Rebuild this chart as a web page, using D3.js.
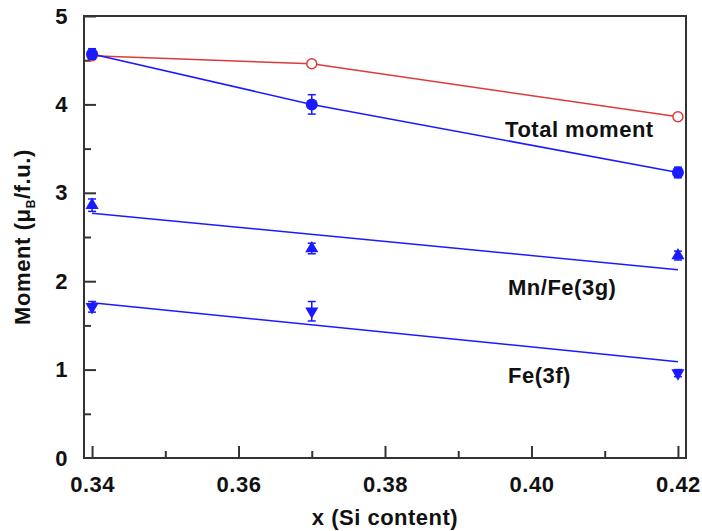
<!DOCTYPE html>
<html>
<head>
<meta charset="utf-8">
<script src="https://cdn.jsdelivr.net/npm/d3@7/dist/d3.min.js"></script>
<style>
  html, body { margin: 0; padding: 0; background: #fff; }
  svg { display: block; }
  text { font-family: "Liberation Sans", Arial, Helvetica, sans-serif; font-weight: bold; fill: #111; }
</style>
</head>
<body>
<svg id="chart" width="702" height="531"></svg>
<script>
// Si content of the three samples
const siContent = [0.34, 0.37, 0.42];

// Total moment from magnetisation (open red circles)
const totalMagnet = [4.55, 4.46, 3.86];

// Total moment from diffraction (filled blue circles) with errors
const totalMoment = [4.57, 4.00, 3.23];
const totalErr = [0.06, 0.11, 0.06];

// Mn/Fe(3g) site moment (up triangles) with errors and linear fit ends
const mnFe3g = [2.86, 2.37, 2.29];
const mnFe3gErr = [0.07, 0.06, 0.05];
const mnFe3gFit = [2.77, 2.13];

// Fe(3f) site moment (down triangles) with errors and linear fit ends
const fe3f = [1.71, 1.66, 0.96];
const fe3fErr = [0.06, 0.11, 0.04];
const fe3fFit = [1.755, 1.09];

const fitX = [0.34, 0.42];

const xMajor = [0.34, 0.36, 0.38, 0.40, 0.42];
const xMinor = [0.35, 0.37, 0.39, 0.41];
const yMajor = [0, 1, 2, 3, 4, 5];
const yMinor = [0.5, 1.5, 2.5, 3.5, 4.5];

const svg = d3.select("#chart");
const L = 84, R = 686, T = 16, B = 458;

const x = d3.scaleLinear().domain([0.3389, 0.4211]).range([L, R]);
const y = d3.scaleLinear().domain([0, 5]).range([B, T]);

const axisColor = "#333";
const blue = "#1a1aff";
const red = "#dd3a3a";

// axes with inward ticks
const gx = svg.append("g").attr("transform", `translate(0,${B})`)
  .call(d3.axisBottom(x).tickValues(xMajor).tickSize(-12).tickPadding(14)
    .tickFormat(d3.format(".2f")));
svg.append("g").attr("transform", `translate(0,${B})`)
  .call(d3.axisBottom(x).tickValues(xMinor).tickSize(-7).tickFormat(""));
const gy = svg.append("g").attr("transform", `translate(${L},0)`)
  .call(d3.axisLeft(y).tickValues(yMajor).tickSize(-12).tickPadding(16)
    .tickFormat(d3.format("d")));
svg.append("g").attr("transform", `translate(${L},0)`)
  .call(d3.axisLeft(y).tickValues(yMinor).tickSize(-7).tickFormat(""));

svg.selectAll(".domain").remove();
svg.selectAll(".tick line").attr("stroke", axisColor).attr("stroke-width", 2);
svg.selectAll(".tick text").style("font-size", "22px").style("letter-spacing", "0.5px").attr("fill", "#111");
gy.selectAll(".tick").filter(d => d === 0).select("line").remove();
gx.selectAll(".tick text").attr("dy", "0.9em");

// plot frame
svg.append("rect")
  .attr("x", L).attr("y", T).attr("width", R - L).attr("height", B - T)
  .attr("fill", "none").attr("stroke", axisColor).attr("stroke-width", 2);

const line = d3.line().x(d => x(d[0])).y(d => y(d[1]));

// linear fits
svg.append("path").datum(fitX.map((v, i) => [v, mnFe3gFit[i]]))
  .attr("d", line).attr("fill", "none").attr("stroke", blue).attr("stroke-width", 1.5);
svg.append("path").datum(fitX.map((v, i) => [v, fe3fFit[i]]))
  .attr("d", line).attr("fill", "none").attr("stroke", blue).attr("stroke-width", 1.5);

// total moment lines
svg.append("path").datum(siContent.map((v, i) => [v, totalMagnet[i]]))
  .attr("d", line).attr("fill", "none").attr("stroke", red).attr("stroke-width", 1.5);
svg.append("path").datum(siContent.map((v, i) => [v, totalMoment[i]]))
  .attr("d", line).attr("fill", "none").attr("stroke", blue).attr("stroke-width", 1.5);

// open red circles
svg.append("g").selectAll("circle").data(siContent.map((v, i) => [v, totalMagnet[i]]))
  .join("circle")
  .attr("cx", d => x(d[0])).attr("cy", d => y(d[1])).attr("r", 5)
  .attr("fill", "#fff").attr("stroke", red).attr("stroke-width", 1.5);

// error bars
function errorBars(vals, errs) {
  const g = svg.append("g").attr("stroke", blue).attr("stroke-width", 1.5);
  siContent.forEach((xv, i) => {
    const cx = x(xv), y0 = y(vals[i] - errs[i]), y1 = y(vals[i] + errs[i]);
    g.append("line").attr("x1", cx).attr("x2", cx).attr("y1", y0).attr("y2", y1);
    g.append("line").attr("x1", cx - 4).attr("x2", cx + 4).attr("y1", y0).attr("y2", y0);
    g.append("line").attr("x1", cx - 4).attr("x2", cx + 4).attr("y1", y1).attr("y2", y1);
  });
}
errorBars(totalMoment, totalErr);
errorBars(mnFe3g, mnFe3gErr);
errorBars(fe3f, fe3fErr);

// filled blue circles
svg.append("g").selectAll("circle").data(siContent.map((v, i) => [v, totalMoment[i]]))
  .join("circle")
  .attr("cx", d => x(d[0])).attr("cy", d => y(d[1])).attr("r", 6)
  .attr("fill", blue);

// triangles
const tri = d3.symbol().type(d3.symbolTriangle).size(75);
svg.append("g").selectAll("path").data(siContent.map((v, i) => [v, mnFe3g[i]]))
  .join("path").attr("d", tri)
  .attr("transform", d => `translate(${x(d[0])},${y(d[1])})`).attr("fill", blue);
svg.append("g").selectAll("path").data(siContent.map((v, i) => [v, fe3f[i]]))
  .join("path").attr("d", tri)
  .attr("transform", d => `translate(${x(d[0])},${y(d[1])}) rotate(180)`).attr("fill", blue);

// series labels
const labels = [
  { t: "Total moment", x: 0.3964, y: 3.627 },
  { t: "Mn/Fe(3g)", x: 0.3968, y: 1.84 },
  { t: "Fe(3f)", x: 0.3968, y: 0.85 }
];
svg.append("g").selectAll("text").data(labels).join("text")
  .attr("x", d => x(d.x)).attr("y", d => y(d.y))
  .style("font-size", "22px").style("letter-spacing", "0.5px").text(d => d.t);

// axis titles
svg.append("text")
  .attr("x", (L + R) / 2).attr("y", 525).attr("text-anchor", "middle")
  .style("font-size", "22px").style("letter-spacing", "0.5px").text("x (Si content)");

const yt = svg.append("text")
  .attr("transform", `translate(30,237) rotate(-90)`).attr("text-anchor", "middle")
  .style("font-size", "22px").style("letter-spacing", "0.6px");
yt.append("tspan").text("Moment (\u03bc");
yt.append("tspan").attr("dy", 5).style("font-size", "12px").text("B");
yt.append("tspan").attr("dy", -5).text("/f.u.)");
</script>
</body>
</html>
